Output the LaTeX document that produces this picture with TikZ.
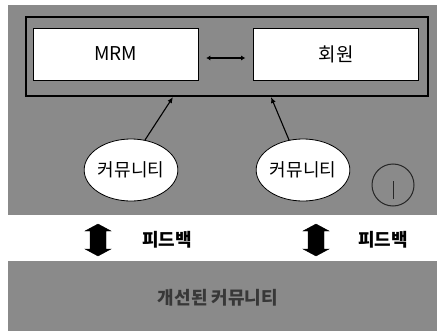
\documentclass[tikz,border=0pt]{standalone}
\usepackage{fontspec}
\setmainfont{Noto Sans CJK KR}
\usetikzlibrary{arrows.meta,shapes.geometric}
\definecolor{panelgray}{gray}{0.54}
\definecolor{textdark}{gray}{0.22}
\tikzset{
  panel/.style={fill=panelgray,draw=none},
  whitebox/.style={fill=white,draw=black,line width=0.6pt,minimum width=165pt,minimum height=52pt,inner sep=0pt,font=\fontsize{19pt}{21pt}\selectfont},
  commell/.style={ellipse,fill=white,draw=black,line width=0.8pt,minimum width=72pt,minimum height=62pt,inner sep=0pt,font=\fontsize{18pt}{20pt}\selectfont},
  link/.style={draw=black,line width=1.1pt,-{Latex[length=6pt,width=5pt]}},
  blockarrow/.style={fill=black,draw=black,line width=0.4pt},
  fblabel/.style={font=\bfseries\fontsize{18pt}{20pt}\selectfont}
}
\begin{document}
\begin{tikzpicture}[x=1pt,y=-1pt]
\useasboundingbox (0,0) rectangle (438,331);
\fill[white] (0,0) rectangle (438,331);
% top panel
\path[panel] (8,5) rectangle (437,215);
% inner framed rectangle
\draw[black,line width=2.6pt] (26,17) rectangle (428,96);
\node[whitebox] (mrm) at (115.5,54) {MRM};
\node[whitebox] (mem) at (336,54) {회원};
\draw[line width=1.6pt,{Latex[length=4pt,width=5pt]}-{Latex[length=4pt,width=5pt]}] ([xshift=8pt,yshift=-4pt]mrm.east) -- ([xshift=-8pt,yshift=-4pt]mem.west);
\coordinate (t1) at (173,97);
\coordinate (t2) at (271,97);
\node[commell] (c1) at (131,170) {커뮤니티};
\node[commell] (c2) at (303,170) {커뮤니티};
\draw[link] (c1.65) -- (t1);
\draw[link] (c2.115) -- (t2);
% faint circle
\node[circle,draw=black!85,line width=1pt,minimum size=42pt,inner sep=0pt] (ghost) at (393,185) {};
\draw[black!85,line width=1pt] ([yshift=-14pt]ghost.center) -- ([yshift=4pt]ghost.center);
% feedback arrows
\begin{scope}[shift={(98,240)}]
\path[blockarrow] (0,-16) -- (13,-9) -- (8,-9) -- (8,9) -- (13,9) -- (0,16) -- (-13,9) -- (-8,9) -- (-8,-9) -- (-13,-9) -- cycle;
\end{scope}
\node[fblabel] (fb1) at (167,240) {피드백};
\begin{scope}[shift={(316,240)}]
\path[blockarrow] (0,-16) -- (13,-9) -- (8,-9) -- (8,9) -- (13,9) -- (0,16) -- (-13,9) -- (-8,9) -- (-8,-9) -- (-13,-9) -- cycle;
\end{scope}
\node[fblabel] (fb2) at (383,240) {피드백};
% bottom panel
\path[panel] (8,261) rectangle (437,331);
\node[font=\bfseries\fontsize{18pt}{20pt}\selectfont,text=textdark] (imp) at (218,298) {개선된 커뮤니티};
\end{tikzpicture}
\end{document}
